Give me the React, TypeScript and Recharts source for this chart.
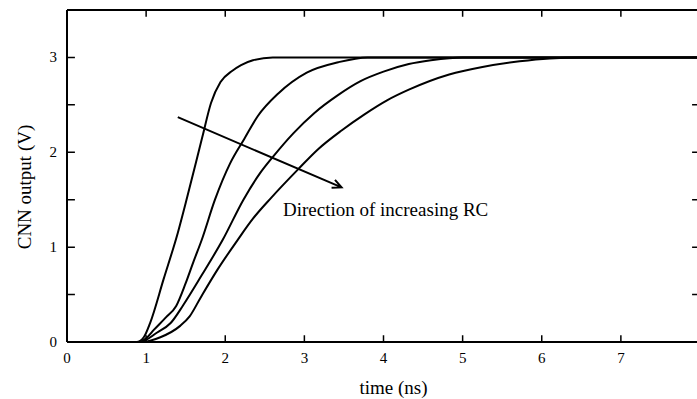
import React from "react";
import {
  LineChart,
  Line,
  XAxis,
  YAxis,
  ReferenceLine,
  ReferenceDot,
  Label,
} from "recharts";

// values: [time (ns), output (V)]
const curveFastest: [number, number][] = [
  [0, 0], [0.88, 0], [0.97, 0.05], [1.05, 0.2], [1.22, 0.66], [1.4, 1.15],
  [1.52, 1.53], [1.71, 2.16], [1.82, 2.52], [1.94, 2.74], [2.09, 2.86],
  [2.2, 2.92], [2.35, 2.97], [2.6, 3.0], [8, 3.0],
];
const curveSecond: [number, number][] = [
  [0, 0], [0.9, 0], [1.0, 0.04], [1.1, 0.13], [1.25, 0.26], [1.38, 0.38],
  [1.5, 0.62], [1.6, 0.85], [1.7, 1.07], [1.87, 1.5], [2.06, 1.88],
  [2.24, 2.14], [2.41, 2.38], [2.67, 2.62], [3.03, 2.84], [3.43, 2.95],
  [3.8, 3.0], [8, 3.0],
];
const curveThird: [number, number][] = [
  [0, 0], [0.92, 0], [1.14, 0.1], [1.31, 0.2], [1.47, 0.39], [1.7, 0.7],
  [1.97, 1.08], [2.23, 1.5], [2.44, 1.78], [2.61, 1.96], [2.86, 2.2],
  [3.12, 2.41], [3.42, 2.6], [3.71, 2.75], [4.0, 2.85], [4.32, 2.93],
  [4.6, 2.97], [5.0, 3.0], [8, 3.0],
];
const curveSlowest: [number, number][] = [
  [0, 0], [0.95, 0], [1.18, 0.05], [1.43, 0.17], [1.55, 0.27], [1.69, 0.47],
  [1.9, 0.76], [2.16, 1.08], [2.35, 1.3], [2.58, 1.52], [2.92, 1.82],
  [3.17, 2.03], [3.47, 2.23], [3.76, 2.4], [4.05, 2.55], [4.32, 2.66],
  [4.83, 2.82], [5.25, 2.9], [5.72, 2.96], [6.1, 2.99], [6.5, 3.0], [8, 3.0],
];

const xTicks = [0, 1, 2, 3, 4, 5, 6, 7];
const yTicks = [0, 0.5, 1, 1.5, 2, 2.5, 3, 3.5];
const xMax = 8;
const yMax = 3.5;
const arrowFrom = { x: 1.4, y: 2.37 };
const arrowTo = { x: 3.47, y: 1.63 };
const noteAt = { x: 2.73, y: 1.4 };
const noteText = "Direction of increasing RC";

const series = [curveFastest, curveSecond, curveThird, curveSlowest].map((pts) =>
  pts.map(([t, v]) => ({ t, v }))
);

// frame and inward tick marks, built from the tick lists (lengths in data units)
const tickLenX = 0.1;
const tickLenY = 0.07;
const gap = (t: number) => ({ t, v: null });
const frameTop = [{ t: 0, v: yMax }, { t: xMax, v: yMax }];
const frameRight = [{ t: xMax, v: 0 }, { t: xMax, v: yMax }];
const vTickMarks = xTicks.slice(1).flatMap((t) => [
  { t, v: 0 }, { t, v: tickLenY }, gap(t),
  { t, v: yMax }, { t, v: yMax - tickLenY }, gap(t),
]);
const hTickMarks = yTicks.slice(1, -1).flatMap((v) => [
  { t: 0, v }, { t: tickLenX, v }, gap(tickLenX),
  { t: xMax, v }, { t: xMax - tickLenX, v }, gap(xMax),
]);
const frameParts = [frameTop, frameRight, vTickMarks, hTickMarks];

const serif = "'Liberation Serif', 'Times New Roman', serif";
const textStyle = { fontSize: 15, fontFamily: serif, fill: "#000" };

const BottomLabel = ({ x, y, payload }: any) => (
  <text x={x} y={y + 16} textAnchor="middle" dominantBaseline="central" style={textStyle}>
    {payload.value}
  </text>
);
const LeftLabel = ({ x, y, payload }: any) => (
  <text x={x - 10} y={y} textAnchor="end" dominantBaseline="central" style={textStyle}>
    {Number.isInteger(payload.value) && payload.value < yMax ? payload.value : ""}
  </text>
);

const ArrowShape = (p: any) => {
  const { x1, y1, x2, y2 } = p;
  const a = Math.atan2(y2 - y1, x2 - x1);
  const len = 10;
  const spread = 0.45;
  const h1 = [x2 - len * Math.cos(a - spread), y2 - len * Math.sin(a - spread)];
  const h2 = [x2 - len * Math.cos(a + spread), y2 - len * Math.sin(a + spread)];
  return (
    <path
      d={`M${x1},${y1}L${x2},${y2}M${h1[0]},${h1[1]}L${x2},${y2}L${h2[0]},${h2[1]}`}
      stroke="#000"
      strokeWidth={2}
      fill="none"
    />
  );
};

export default function App() {
  return (
    <div
      style={{
        position: "absolute",
        left: 0,
        top: 0,
        width: 697,
        height: 399,
        overflow: "hidden",
        background: "#fff",
      }}
    >
      <LineChart width={700} height={399} margin={{ top: 10, right: 0, bottom: 0, left: 0 }}>
        <XAxis
          dataKey="t"
          type="number"
          domain={[0, xMax]}
          ticks={xTicks}
          height={57}
          stroke="#000"
          strokeWidth={2}
          tickLine={false}
          tickSize={0}
          tickMargin={0}
          tick={<BottomLabel />}
        >
          <Label
            value="time (ns)"
            position="insideBottom"
            offset={5}
            dx={10}
            style={{ fontSize: 19, fontFamily: serif, fill: "#000" }}
          />
        </XAxis>
        <YAxis
          type="number"
          domain={[0, yMax]}
          ticks={yTicks}
          width={67}
          stroke="#000"
          strokeWidth={2}
          tickLine={false}
          tickSize={0}
          tickMargin={0}
          tick={<LeftLabel />}
        >
          <Label
            content={() => (
              <text
                x={24}
                y={187}
                transform="rotate(-90 24 187)"
                textAnchor="middle"
                dominantBaseline="central"
                style={{ fontSize: 19, fontFamily: serif, fill: "#000" }}
              >
                CNN output (V)
              </text>
            )}
          />
        </YAxis>
        {frameParts.map((data, i) => (
          <Line
            key={`frame${i}`}
            data={data}
            dataKey="v"
            type="linear"
            stroke="#000"
            strokeWidth={i < 2 ? 2 : 1.5}
            dot={false}
            activeDot={false}
            connectNulls={false}
            isAnimationActive={false}
          />
        ))}
        {series.map((data, i) => (
          <Line
            key={i}
            data={data}
            dataKey="v"
            type="monotone"
            stroke="#000"
            strokeWidth={2}
            dot={false}
            activeDot={false}
            isAnimationActive={false}
          />
        ))}
        <ReferenceLine segment={[arrowFrom, arrowTo]} stroke="#000" shape={ArrowShape} ifOverflow="visible" />
        <ReferenceDot
          x={noteAt.x}
          y={noteAt.y}
          r={0}
          fill="none"
          stroke="none"
          label={{
            value: noteText,
            position: "right",
            offset: 0,
            fill: "#000",
            fontSize: 19,
            fontFamily: serif,
          }}
        />
      </LineChart>
    </div>
  );
}
